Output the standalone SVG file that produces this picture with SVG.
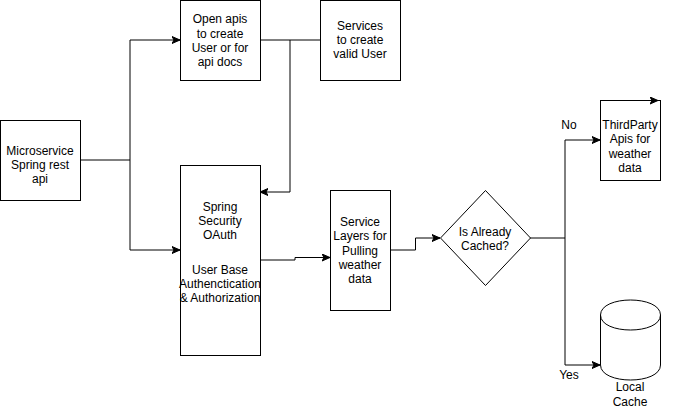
<svg xmlns="http://www.w3.org/2000/svg" width="681" height="411" viewBox="0 0 681 411">
<style>
.box{fill:#fff;stroke:#000;stroke-width:1}
.edge{fill:none;stroke:#000;stroke-width:1}
text{font-family:"Liberation Sans",Arial,Helvetica,sans-serif;font-size:12px;fill:#000;text-anchor:middle}
</style>
<defs>
<marker id="arr" markerUnits="userSpaceOnUse" markerWidth="10" markerHeight="10" refX="8" refY="4" orient="auto">
<path d="M0,0.5 L8,4 L0,7.5 L2,4 Z" fill="#000" stroke="#000" stroke-width="1"/>
</marker>
</defs>
<rect width="681" height="411" fill="#fff"/>
<g id="connectors">
<path class="edge" d="M80,160 H130 V40 H180" marker-end="url(#arr)"/>
<path class="edge" d="M130,160 V250 H180" marker-end="url(#arr)"/>
<path class="edge" d="M260,40 H320"/>
<path class="edge" d="M290,40 V192 H260" marker-end="url(#arr)"/>
<path class="edge" d="M260,260 H295 V257.5 H330" marker-end="url(#arr)"/>
<path class="edge" d="M390,250 H415.5 V238 H440" marker-end="url(#arr)"/>
<path class="edge" d="M530,238 H565 V140 H600" marker-end="url(#arr)"/>
<path class="edge" d="M565,238 V365 H600" marker-end="url(#arr)"/>
</g>
<g id="microservice">
<rect class="box" x="0.5" y="120.5" width="80" height="80"/>
<text x="40" y="155">Microservice</text>
<text x="40" y="169">Spring rest</text>
<text x="40" y="183">api</text>
</g>
<g id="open-apis">
<rect class="box" x="180.5" y="0.5" width="80" height="80"/>
<text x="220" y="23">Open apis</text>
<text x="220" y="37.5">to create</text>
<text x="220" y="52">User or for</text>
<text x="220" y="66">api docs</text>
</g>
<g id="services">
<rect class="box" x="320.5" y="0.5" width="80" height="80"/>
<text x="360" y="30">Services</text>
<text x="360" y="44">to create</text>
<text x="360" y="58">valid User</text>
</g>
<g id="spring-security">
<rect class="box" x="180.5" y="165.5" width="80" height="190"/>
<text x="220" y="211">Spring</text>
<text x="220" y="225">Security</text>
<text x="220" y="239">OAuth</text>
<text x="220" y="274">User Base</text>
<text x="220" y="288">Authenctication</text>
<text x="220" y="302">&amp; Authorization</text>
</g>
<g id="service-layers">
<rect class="box" x="330.5" y="190.5" width="60" height="120"/>
<text x="360" y="226">Service</text>
<text x="360" y="240">Layers for</text>
<text x="360" y="255">Pulling</text>
<text x="360" y="269">weather</text>
<text x="360" y="283">data</text>
</g>
<g id="is-cached">
<path class="box" d="M485.5,190.5 L530.5,238 L485.5,285.5 L440.5,238 Z"/>
<text x="485" y="236">Is Already</text>
<text x="485" y="250">Cached?</text>
</g>
<g id="thirdparty">
<rect class="box" x="600.5" y="100.5" width="60" height="80"/>
<path class="edge" d="M645,100.5 H658" marker-end="url(#arr)"/>
<text x="630" y="129">ThirdParty</text>
<text x="630" y="143">Apis for</text>
<text x="630" y="158">weather</text>
<text x="630" y="172">data</text>
</g>
<g id="local-cache">
<path class="box" d="M600.5,315 C600.5,295 660.5,295 660.5,315 L660.5,365 C660.5,385 600.5,385 600.5,365 Z"/>
<path class="edge" d="M600.5,315 C600.5,335 660.5,335 660.5,315"/>
<text x="630" y="391">Local</text>
<text x="630" y="406">Cache</text>
</g>
<g id="labels">
<text x="569" y="129">No</text>
<text x="569" y="379">Yes</text>
</g>
</svg>
